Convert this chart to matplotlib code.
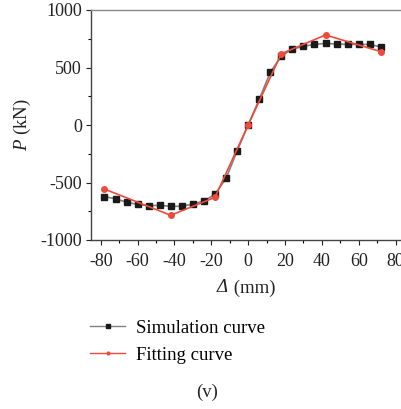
import matplotlib
matplotlib.use("Agg")
import matplotlib.pyplot as plt
from matplotlib.lines import Line2D

plt.rcParams['font.family'] = ['Liberation Serif', 'DejaVu Serif']
plt.rcParams['mathtext.fontset'] = 'custom'
plt.rcParams['mathtext.it'] = 'Liberation Serif:italic'
plt.rcParams['mathtext.rm'] = 'Liberation Serif'
plt.rcParams['axes.unicode_minus'] = False

sim_x = [-78, -72, -66, -60, -54, -48, -42, -36, -30, -24, -18, -12, -6, 0,
         6, 12, 18, 24, 30, 36, 42, 48, 54, 60, 66, 72]
sim_y = [-623, -641, -672, -690, -701, -699, -707, -707, -687, -661, -603, -464, -226, 0,
         223, 458, 600, 661, 684, 701, 710, 704, 701, 701, 701, 678]
fit_x = [-78, -42, -18, 0, 18, 42, 72]
fit_y = [-557, -785, -629, 0, 620, 783, 638]

xticks = [-80, -60, -40, -20, 0, 20, 40, 60, 80]
yticks = [-1000, -500, 0, 500, 1000]

fig = plt.figure(figsize=(4.02, 4.09), dpi=100)
ax = fig.add_axes([91/402, 1-240/409, 1-91/402, 230/409])

ax.plot(sim_x, sim_y, color='#808080', lw=1.2, marker='s', ms=4.5,
        mfc='#1a1a1a', mec='#1a1a1a', zorder=2)
ax.plot(fit_x, fit_y, color='#ef4b3a', lw=1.2, marker='o', ms=4,
        mfc='#ef4b3a', mec='#ef4b3a', zorder=3)

ax.set_xlim(-85.3, 83.5)
ax.set_ylim(-1000, 1000)
ax.set_xticks(xticks)
ax.set_yticks(yticks)
ax.set_xticks(range(-80, 81, 10), minor=True)
ax.set_yticks(range(-1000, 1001, 250), minor=True)
ax.tick_params(which='major', direction='out', length=3.5, width=0.8, labelsize=13, colors='#222222', pad=3)
ax.tick_params(axis='x', which='major', pad=6)
ax.tick_params(which='minor', direction='out', length=2, width=0.8)
ax.spines['right'].set_visible(False)
for s in ['left', 'bottom']:
    ax.spines[s].set_color('#444444')
    ax.spines[s].set_linewidth(1.0)
ax.spines['top'].set_color('#888888')
ax.spines['top'].set_linewidth(1.0)
ax.set_ylabel(r'$\mathit{P}$ (kN)', fontsize=13.5, labelpad=5, color='#222222')

# x label: italic Delta followed by upright unit
fig.text(228/402, 1-288/409, 'Δ', style='italic', ha='right', va='center',
         fontsize=13.5, color='#222222')
fig.text(229/402, 1-288/409, ' (mm)', ha='left', va='center',
         fontsize=13.5, color='#222222')

handles = [Line2D([], [], color='#808080', lw=1.0, marker='s', ms=2.5, mfc='#1a1a1a', mec='#1a1a1a'),
           Line2D([], [], color='#ef4b3a', lw=1.0, marker='o', ms=2, mfc='#ef4b3a', mec='#ef4b3a')]
fig.legend(handles, ['Simulation curve', 'Fitting curve'], loc='upper left',
           bbox_to_anchor=(73/402, 1-303/409), frameon=False, fontsize=13.5,
           handlelength=1.9, handletextpad=0.55, labelspacing=0.5)
fig.text(207/402, 1-392/409, '(v)', ha='center', va='center', fontsize=13.5, color='#222222')

fig.savefig('out.png', dpi=100)
